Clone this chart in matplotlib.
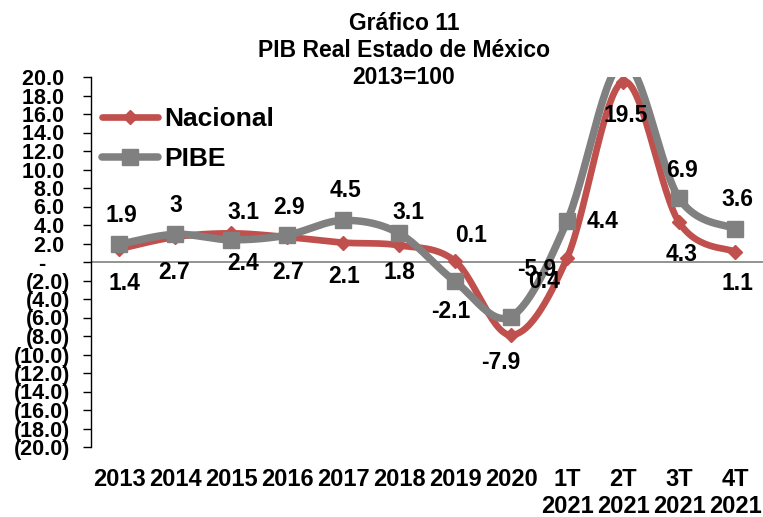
import numpy as np
import matplotlib
matplotlib.use("Agg")
import matplotlib.pyplot as plt

plt.rcParams['font.family'] = ['Liberation Sans', 'DejaVu Sans']
plt.rcParams['font.weight'] = 'bold'

categories = ["2013", "2014", "2015", "2016", "2017", "2018", "2019", "2020",
              "1T\n2021", "2T\n2021", "3T\n2021", "4T\n2021"]
nacional = [1.4, 2.7, 3.1, 2.7, 2.1, 1.8, 0.1, -7.9, 0.4, 19.5, 4.3, 1.1]
pibe = [1.9, 3.0, 2.4, 2.9, 4.5, 3.1, -2.1, -5.9, 4.4, 21.6, 6.9, 3.6]
pibe_labels = ["1.9", "3", "2.4", "2.9", "4.5", "3.1", "-2.1", "-5.9", "4.4", None, "6.9", "3.6"]
nac_labels = ["1.4", "2.7", "3.1", "2.7", "2.1", "1.8", "0.1", "-7.9", "0.4", "19.5", "4.3", "1.1"]
yticks = list(range(20, -21, -2))

# label offsets in pixels (dx, dy up) -- styling only
pibe_off = [(2, 29), (1, 29), (12, -24), (2, 28), (2, 30), (9, 21), (-4, -30),
            (26, 47), (36, 0), (0, 0), (3, 28), (2, 29)]
nac_off = [(5, -34), (-1, -35), (12, 21), (1, -35), (1, -34), (0, -27), (16, 26),
           (-10, -27), (-23, -23), (3, -34), (3, -32), (2, -32)]

RED = "#C0504D"
GRAY = "#808080"


def smooth(x, y, n=30):
    x = np.asarray(x, float)
    y = np.asarray(y, float)
    P = np.column_stack([x, y])
    Pe = np.vstack([P[0], P, P[-1]])
    out = []
    for i in range(len(P) - 1):
        p0, p1, p2, p3 = Pe[i], Pe[i + 1], Pe[i + 2], Pe[i + 3]
        c1 = p1 + (p2 - p0) / 6.0
        c2 = p2 - (p3 - p1) / 6.0
        t = np.linspace(0, 1, n, endpoint=(i == len(P) - 2))[:, None]
        seg = ((1 - t) ** 3) * p1 + 3 * ((1 - t) ** 2) * t * c1 + 3 * (1 - t) * t ** 2 * c2 + t ** 3 * p2
        out.append(seg)
    out = np.vstack(out)
    return out[:, 0], out[:, 1]


fig = plt.figure(figsize=(7.63, 5.17), dpi=100)
ax = fig.add_axes([91 / 763, 70 / 517, 672 / 763, 370 / 517])

x = np.arange(len(categories))
sx, sy = smooth(x, nacional)
ax.plot(sx, sy, color=RED, lw=4.8, solid_capstyle='round', zorder=3)
ax.plot(x, nacional, ls='none', marker='D', ms=7, color=RED, zorder=3)
px, py = smooth(x, pibe)
ax.plot(px, py, color=GRAY, lw=5.4, solid_capstyle='round', zorder=4)
ax.plot(x, pibe, ls='none', marker='s', ms=11, color=GRAY, zorder=4)

# legend proxies
h1, = ax.plot([], [], color=RED, lw=4.8, marker='D', ms=7, solid_capstyle='round')
h2, = ax.plot([], [], color=GRAY, lw=5.4, marker='s', ms=11, solid_capstyle='round')

ax.axhline(0, color=GRAY, lw=1.2, zorder=2)
ax.set_xlim(-0.5, len(categories) - 0.5)
ax.set_ylim(-20, 20)

for i, (lab, off) in enumerate(zip(pibe_labels, pibe_off)):
    if lab is None:
        continue
    ax.annotate(lab, (x[i], pibe[i]), xytext=off, textcoords='offset pixels',
                ha='center', va='center', fontsize=16.5, fontweight='bold', color='black', zorder=6)
for i, (lab, off) in enumerate(zip(nac_labels, nac_off)):
    ax.annotate(lab, (x[i], nacional[i]), xytext=off, textcoords='offset pixels',
                ha='center', va='center', fontsize=16.5, fontweight='bold', color='black', zorder=6)


def fmt(v):
    if v > 0:
        return f"{v:.1f} "
    if v == 0:
        return "-    "
    return f"({-v:.1f})"


ax.set_yticks(yticks)
ax.set_yticklabels([fmt(v) for v in yticks], fontsize=15.5, fontweight='bold')
ax.set_xticks(x)
ax.set_xticklabels(categories, fontsize=17, fontweight='bold', linespacing=1.25)
ax.tick_params(axis='y', length=6, width=1, direction='out', pad=9, color='black')
ax.tick_params(axis='x', length=0, pad=15)

for s in ['top', 'right', 'bottom']:
    ax.spines[s].set_visible(False)
ax.spines['left'].set_color('black')
ax.spines['left'].set_linewidth(1.0)

leg = ax.legend([h1, h2], ["Nacional", "PIBE"], loc='upper left',
                bbox_to_anchor=(0.005, 0.94), frameon=False,
                prop={'size': 19, 'weight': 'bold'}, handlelength=2.1,
                handletextpad=0.25, labelspacing=0.6, borderaxespad=0.0, borderpad=0.3)

fig.text(404 / 763, 1 - 12 / 517, "Gráfico 11\nPIB Real Estado de México\n2013=100",
         ha='center', va='top', fontsize=16.5, fontweight='bold', linespacing=1.23)

fig.savefig("out.png", dpi=100)
